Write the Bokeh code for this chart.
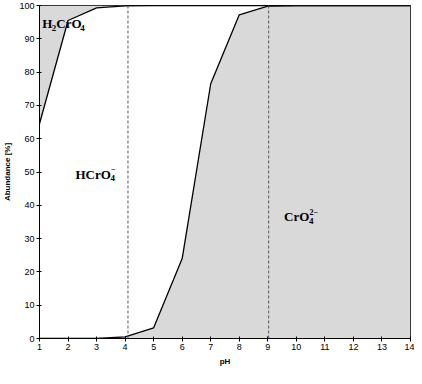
from bokeh.plotting import figure
from bokeh.models import Range1d, FixedTicker, Span
from bokeh.core.properties import value
from bokeh.embed import file_html
from bokeh.resources import INLINE

ph = [1, 2, 3, 4, 5, 6, 7, 8, 9, 10, 11, 12, 13, 14]
# boundary between H2CrO4 (above) and HCrO4- (below), in %
h2cro4_edge = [64.5, 95.5, 99.3, 99.9, 100, 100, 100, 100, 100, 100, 100, 100, 100, 100]
# boundary between HCrO4- (above) and CrO4 2- (below), in %
cro4_edge = [0, 0, 0, 0.5, 3.2, 24, 76.5, 97.2, 99.8, 100, 100, 100, 100, 100]
top = [100] * len(ph)
bottom = [0] * len(ph)
dashed_ph = [4.1, 9.03]
x_ticks = list(range(1, 15))
y_ticks = list(range(0, 101, 10))

# species labels: main text parts and sub/superscript parts
main_text = ["H", "CrO", "HCrO", "CrO"]
main_x = [1.1, 1.1, 2.26, 9.57]
main_y = [94.5, 94.5, 49.3, 36.6]
main_off = [0, 14, 0, 0]
sub_text = ["2", "4", "4", "4"]
sub_x = [1.1, 1.1, 2.26, 9.57]
sub_y = [94.5, 94.5, 49.3, 36.6]
sub_off = [9.5, 38, 35, 25]
sup_text = ["\u2212", "2\u2212"]
sup_x = [2.26, 9.57]
sup_y = [49.3, 36.6]
sup_off = [35.5, 25.5]

p = figure(width=414, height=368, output_backend="svg", toolbar_location=None,
           x_range=Range1d(1, 14), y_range=Range1d(0, 100),
           min_border_top=5, min_border_right=4, min_border_left=0, min_border_bottom=0)
p.grid.visible = False
p.outline_line_color = "black"
p.outline_line_width = 1
p.background_fill_color = "white"

gray = "#d9d9d9"
p.varea(x=ph, y1=h2cro4_edge, y2=top, fill_color=gray)
p.varea(x=ph, y1=bottom, y2=cro4_edge, fill_color=gray)
p.line(ph, h2cro4_edge, line_color="black", line_width=1.3)
p.line(ph, cro4_edge, line_color="black", line_width=1.3)

for d in dashed_ph:
    p.add_layout(Span(location=d, dimension="height", line_color="#555555",
                      line_dash="3 2", line_width=1))

serif = value("Liberation Serif")
p.text(x=main_x, y=main_y, text=main_text, x_offset=main_off, text_font=serif,
       text_font_style="bold", text_font_size="13px", text_baseline="middle",
       text_color="black")
p.text(x=sub_x, y=sub_y, text=sub_text, x_offset=sub_off, y_offset=4, text_font=serif,
       text_font_style="bold", text_font_size="9px", text_baseline="middle",
       text_color="black")
p.text(x=sup_x, y=sup_y, text=sup_text, x_offset=sup_off, y_offset=-5, text_font=serif,
       text_font_style="bold", text_font_size="8px", text_baseline="middle",
       text_color="black")

p.xaxis.ticker = FixedTicker(ticks=x_ticks)
p.yaxis.ticker = FixedTicker(ticks=y_ticks)
for ax in (p.xaxis[0], p.yaxis[0]):
    ax.major_label_text_font = "Liberation Sans"
    ax.major_label_text_font_size = "9px"
    ax.major_label_text_color = "black"
    ax.axis_label_text_font = "Liberation Sans"
    ax.axis_label_text_font_size = "8px"
    ax.axis_label_text_font_style = "bold"
    ax.axis_label_text_color = "black"
    ax.minor_tick_line_color = None
    ax.major_tick_in = 2
    ax.major_tick_out = 3
    ax.axis_line_color = "black"
    ax.major_tick_line_color = "black"
    ax.major_label_standoff = 2
    ax.axis_label_standoff = 4
p.xaxis.axis_label = "pH"
p.yaxis.axis_label = "Abundance [%]"

open("out.html", "w").write(file_html(p, INLINE))
